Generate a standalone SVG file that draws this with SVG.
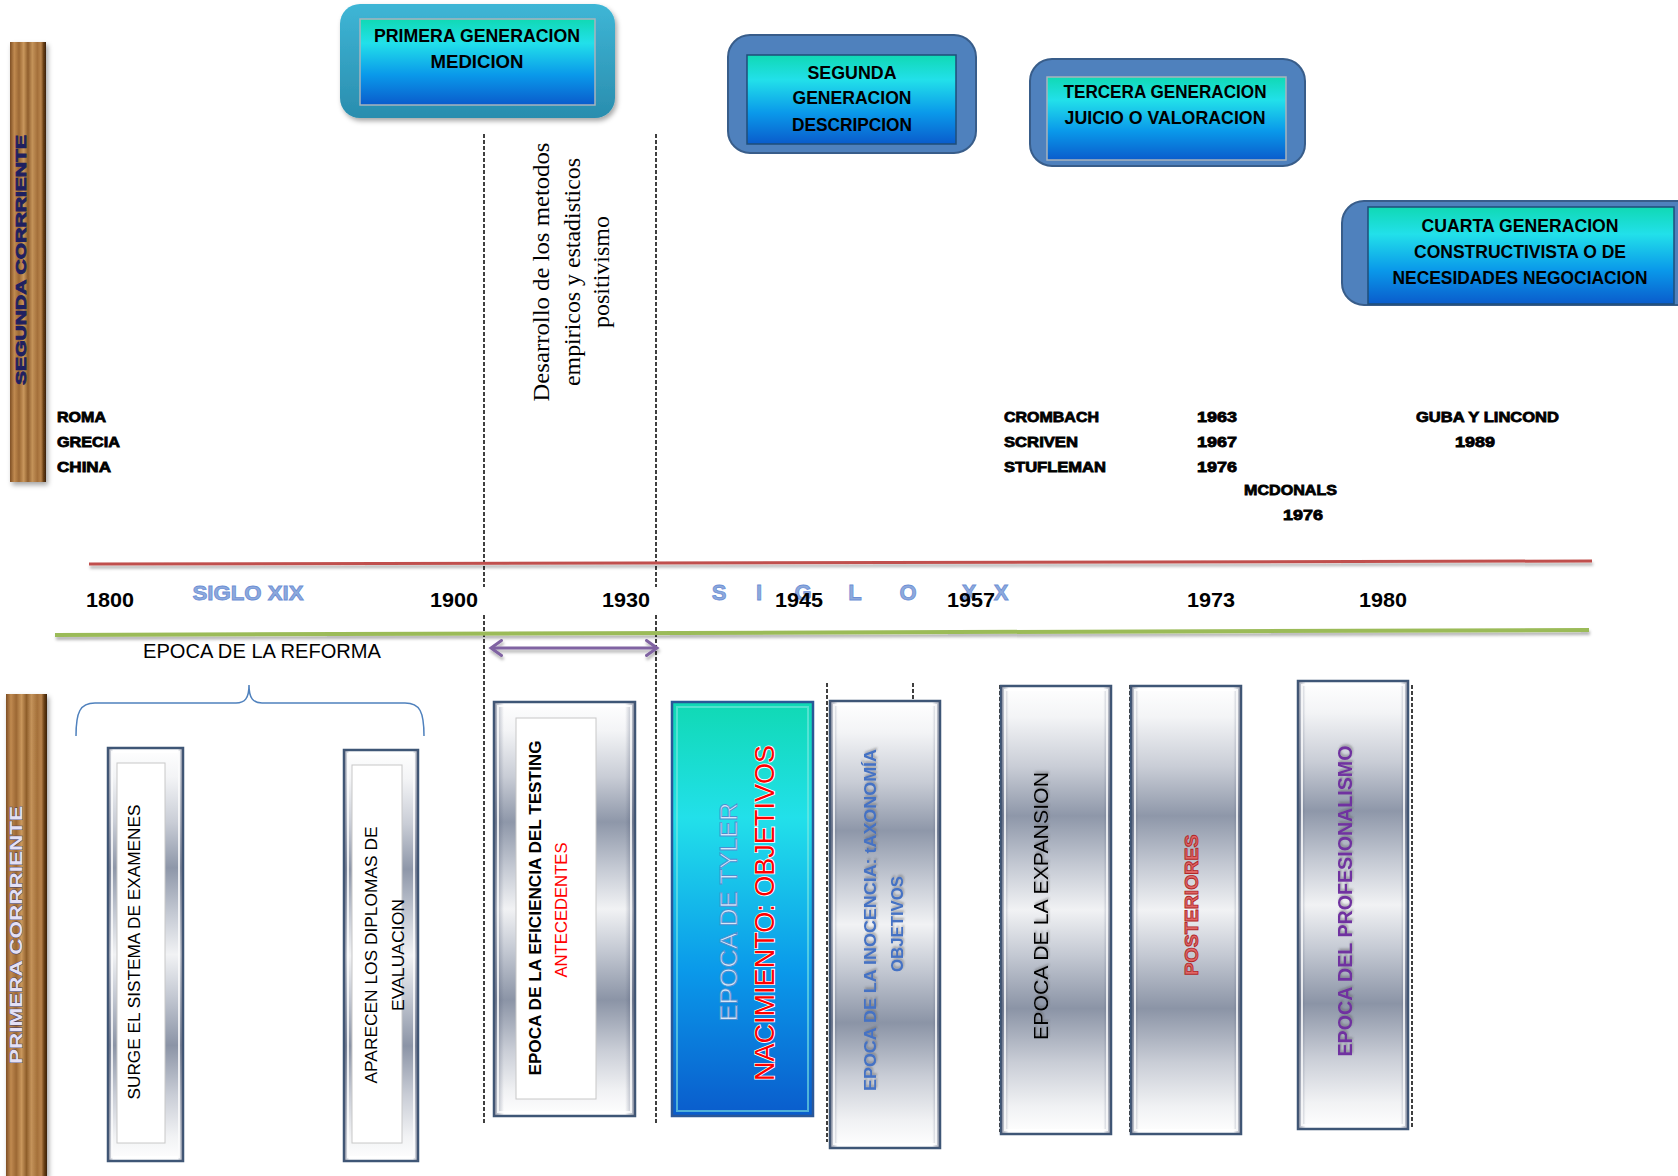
<svg xmlns="http://www.w3.org/2000/svg" width="1678" height="1176" viewBox="0 0 1678 1176">
<style>
text{font-family:"Liberation Sans",Arial,sans-serif}
.gen{font-weight:bold;font-size:17.5px;fill:#000;text-anchor:middle}
.heavy{font-weight:bold;font-size:15px;fill:#000;stroke:#000;stroke-width:0.8}
.year{font-weight:bold;font-size:20px;fill:#000;text-anchor:middle}
.vt{text-anchor:middle;dominant-baseline:central}
.dash{stroke:#000;stroke-width:1.5;stroke-dasharray:4 2;fill:none}
.frame{stroke:#3e5676;stroke-width:2.5}
.bevel{fill:none;stroke:#ffffff;stroke-opacity:0.8;stroke-width:2}
.outer2{fill:#4f81bd;stroke:#385d8a;stroke-width:2}
</style>
<defs>
<linearGradient id="silver" x1="0" y1="0" x2="0" y2="1">
<stop offset="0" stop-color="#ffffff"/>
<stop offset="0.07" stop-color="#f3f4f6"/>
<stop offset="0.18" stop-color="#c9cdd6"/>
<stop offset="0.29" stop-color="#8e97a9"/>
<stop offset="0.4" stop-color="#c4c9d3"/>
<stop offset="0.5" stop-color="#f1f2f4"/>
<stop offset="0.6" stop-color="#c4c9d3"/>
<stop offset="0.72" stop-color="#8b94a6"/>
<stop offset="0.84" stop-color="#c9cdd6"/>
<stop offset="0.94" stop-color="#f1f2f4"/>
<stop offset="1" stop-color="#ffffff"/>
</linearGradient>
<linearGradient id="edge" x1="0" y1="0" x2="1" y2="0">
<stop offset="0" stop-color="#4a5570" stop-opacity="0.55"/>
<stop offset="0.07" stop-color="#4a5570" stop-opacity="0"/>
<stop offset="0.93" stop-color="#4a5570" stop-opacity="0"/>
<stop offset="1" stop-color="#4a5570" stop-opacity="0.55"/>
</linearGradient>
<linearGradient id="teal" x1="0" y1="0" x2="0" y2="1">
<stop offset="0" stop-color="#10d9b4"/>
<stop offset="0.28" stop-color="#22e0ea"/>
<stop offset="0.65" stop-color="#0a99ea"/>
<stop offset="1" stop-color="#0a5ccc"/>
</linearGradient>
<linearGradient id="primOuter" x1="0" y1="0" x2="0" y2="1">
<stop offset="0" stop-color="#3eb6d6"/>
<stop offset="1" stop-color="#2a8dae"/>
</linearGradient>
<linearGradient id="wood" x1="0" y1="0" x2="1" y2="0">
<stop offset="0" stop-color="#7e4f24"/>
<stop offset="0.12" stop-color="#c08a50"/>
<stop offset="0.25" stop-color="#9c6834"/>
<stop offset="0.38" stop-color="#c9975c"/>
<stop offset="0.5" stop-color="#8f5e2c"/>
<stop offset="0.62" stop-color="#c4935a"/>
<stop offset="0.76" stop-color="#a4703a"/>
<stop offset="0.86" stop-color="#b8834c"/>
<stop offset="0.93" stop-color="#6b4118"/>
<stop offset="1" stop-color="#3a2208"/>
</linearGradient>
<filter id="sh" x="-10%" y="-10%" width="130%" height="130%">
<feDropShadow dx="2" dy="3" stdDeviation="2.5" flood-color="#000" flood-opacity="0.35"/>
</filter>
<filter id="lsh" filterUnits="userSpaceOnUse" x="0" y="0" width="1678" height="1176">
<feDropShadow dx="1" dy="3" stdDeviation="1.5" flood-color="#000" flood-opacity="0.3"/>
</filter>
<filter id="tsh" x="-20%" y="-20%" width="150%" height="150%">
<feDropShadow dx="2" dy="1" stdDeviation="1" flood-color="#555" flood-opacity="0.45"/>
</filter>
<marker id="chev" viewBox="0 0 10 12" refX="8" refY="6" markerWidth="5" markerHeight="6" orient="auto-start-reverse" markerUnits="strokeWidth">
<path d="M1,1 L8,6 L1,11" fill="none" stroke="#8064a2" stroke-width="2" stroke-linecap="round"/>
</marker>
</defs>

<g id="plank-segunda">
<rect x="10" y="42" width="36" height="440" fill="url(#wood)" filter="url(#sh)"/>
<text class="vt" transform="translate(20,260) rotate(-90)" font-weight="bold" font-size="15" fill="#1f2060" stroke="#1f2060" stroke-width="0.8" textLength="250" lengthAdjust="spacingAndGlyphs">SEGUNDA  CORRRIENTE</text>
</g>
<g id="plank-primera">
<rect x="6" y="694" width="41" height="482" fill="url(#wood)" filter="url(#sh)"/>
<text class="vt" transform="translate(16,935) rotate(-90)" font-weight="bold" font-size="16" fill="#e4e0f4" stroke="#3a3a6a" stroke-width="0.7" paint-order="stroke" textLength="258" lengthAdjust="spacingAndGlyphs">PRIMERA CORRRIENTE</text>
</g>

<g id="gen-primera">
<rect x="340" y="4" width="275" height="114" rx="20" fill="url(#primOuter)" filter="url(#sh)"/>
<rect x="360" y="19" width="235" height="86" fill="url(#teal)" stroke="#a9b4bd" stroke-width="1.5"/>
<text class="gen" x="477" y="42" textLength="206" lengthAdjust="spacingAndGlyphs">PRIMERA GENERACION</text>
<text class="gen" x="477" y="68" textLength="93" lengthAdjust="spacingAndGlyphs">MEDICION</text>
</g>
<g id="gen-segunda">
<rect class="outer2" x="728" y="35" width="248" height="118" rx="22"/>
<rect x="747" y="55" width="209" height="89" fill="url(#teal)" stroke="#1f4e79" stroke-width="1.5"/>
<text class="gen" x="852" y="79" textLength="89" lengthAdjust="spacingAndGlyphs">SEGUNDA</text>
<text class="gen" x="852" y="104" textLength="119" lengthAdjust="spacingAndGlyphs">GENERACION</text>
<text class="gen" x="852" y="131" textLength="120" lengthAdjust="spacingAndGlyphs">DESCRIPCION</text>
</g>
<g id="gen-tercera">
<rect class="outer2" x="1030" y="59" width="275" height="107" rx="22"/>
<rect x="1047" y="77" width="239" height="83" fill="url(#teal)" stroke="#a9b4bd" stroke-width="1.5"/>
<text class="gen" x="1165" y="98" textLength="203" lengthAdjust="spacingAndGlyphs">TERCERA GENERACION</text>
<text class="gen" x="1165" y="124" textLength="201" lengthAdjust="spacingAndGlyphs">JUICIO O VALORACION</text>
</g>
<g id="gen-cuarta">
<rect class="outer2" x="1342" y="201" width="360" height="104" rx="22"/>
<rect x="1368" y="207" width="306" height="97" fill="url(#teal)" stroke="#1f4e79" stroke-width="1.5"/>
<text class="gen" x="1520" y="232" textLength="197" lengthAdjust="spacingAndGlyphs">CUARTA GENERACION</text>
<text class="gen" x="1520" y="258" textLength="212" lengthAdjust="spacingAndGlyphs">CONSTRUCTIVISTA O DE</text>
<text class="gen" x="1520" y="284" textLength="255" lengthAdjust="spacingAndGlyphs">NECESIDADES NEGOCIACION</text>
</g>

<g id="connectors">
<line class="dash" x1="484" y1="134" x2="484" y2="587"/>
<line class="dash" x1="484" y1="615" x2="484" y2="1124"/>
<line class="dash" x1="656" y1="134" x2="656" y2="587"/>
<line class="dash" x1="656" y1="615" x2="656" y2="1124"/>
<line class="dash" x1="827" y1="683" x2="827" y2="1142"/>
<line class="dash" x1="913" y1="683" x2="913" y2="702"/>
<line class="dash" x1="1000" y1="685" x2="1000" y2="1132"/>
<line class="dash" x1="1130" y1="685" x2="1130" y2="1132"/>
<line class="dash" x1="1412" y1="685" x2="1412" y2="1128"/>
<line x1="89" y1="564" x2="1592" y2="561" stroke="#c0504d" stroke-width="3" filter="url(#lsh)"/>
<line x1="55" y1="635" x2="1589" y2="630" stroke="#9bbb59" stroke-width="4" filter="url(#lsh)"/>
<line x1="491" y1="648" x2="657" y2="648" stroke="#8064a2" stroke-width="3" marker-start="url(#chev)" marker-end="url(#chev)" filter="url(#lsh)"/>
<path d="M76,736 C76,712 80,703 95,703 L236,703 C245,703 249,698 249,685 C249,698 253,703 262,703 L405,703 C420,703 424,712 424,736" fill="none" stroke="#4f81bd" stroke-width="1.5"/>
</g>

<g id="desarrollo">
<text class="vt" transform="translate(541,272) rotate(-90)" font-size="23" fill="#000" textLength="259" lengthAdjust="spacingAndGlyphs" style="font-family:'Liberation Serif',serif">Desarrollo de los metodos</text>
<text class="vt" transform="translate(572,272) rotate(-90)" font-size="23" fill="#000" textLength="228" lengthAdjust="spacingAndGlyphs" style="font-family:'Liberation Serif',serif">empiricos y estadisticos</text>
<text class="vt" transform="translate(601,272) rotate(-90)" font-size="23" fill="#000" textLength="112" lengthAdjust="spacingAndGlyphs" style="font-family:'Liberation Serif',serif">positivismo</text>
</g>

<g id="autores">
<text class="heavy" x="57" y="422" textLength="49" lengthAdjust="spacingAndGlyphs">ROMA</text>
<text class="heavy" x="57" y="447" textLength="63" lengthAdjust="spacingAndGlyphs">GRECIA</text>
<text class="heavy" x="57" y="472" textLength="54" lengthAdjust="spacingAndGlyphs">CHINA</text>
<text class="heavy" x="1004" y="422" textLength="95" lengthAdjust="spacingAndGlyphs">CROMBACH</text>
<text class="heavy" x="1004" y="447" textLength="74" lengthAdjust="spacingAndGlyphs">SCRIVEN</text>
<text class="heavy" x="1004" y="472" textLength="102" lengthAdjust="spacingAndGlyphs">STUFLEMAN</text>
<text class="heavy" x="1197" y="422" textLength="40" lengthAdjust="spacingAndGlyphs">1963</text>
<text class="heavy" x="1197" y="447" textLength="40" lengthAdjust="spacingAndGlyphs">1967</text>
<text class="heavy" x="1197" y="472" textLength="40" lengthAdjust="spacingAndGlyphs">1976</text>
<text class="heavy" x="1244" y="495" textLength="93" lengthAdjust="spacingAndGlyphs">MCDONALS</text>
<text class="heavy" x="1283" y="520" textLength="40" lengthAdjust="spacingAndGlyphs">1976</text>
<text class="heavy" x="1416" y="422" textLength="143" lengthAdjust="spacingAndGlyphs">GUBA Y LINCOND</text>
<text class="heavy" x="1455" y="447" textLength="40" lengthAdjust="spacingAndGlyphs">1989</text>
</g>

<g id="siglos">
<text x="248" y="600" text-anchor="middle" font-weight="bold" font-size="20" fill="#8eaadb" stroke="#6d8fd6" stroke-width="0.8" textLength="111" lengthAdjust="spacingAndGlyphs">SIGLO XIX</text>
<text x="719 759 803 855 908 969 1001" y="600" text-anchor="middle" font-weight="bold" font-size="22" fill="#8eaadb" stroke="#6d8fd6" stroke-width="0.8">SIGLOXX</text>
</g>

<g id="years">
<text class="year" x="110" y="607" textLength="48" lengthAdjust="spacingAndGlyphs">1800</text>
<text class="year" x="454" y="607" textLength="48" lengthAdjust="spacingAndGlyphs">1900</text>
<text class="year" x="626" y="607" textLength="48" lengthAdjust="spacingAndGlyphs">1930</text>
<text class="year" x="799" y="607" textLength="48" lengthAdjust="spacingAndGlyphs">1945</text>
<text class="year" x="971" y="607" textLength="48" lengthAdjust="spacingAndGlyphs">1957</text>
<text class="year" x="1211" y="607" textLength="48" lengthAdjust="spacingAndGlyphs">1973</text>
<text class="year" x="1383" y="607" textLength="48" lengthAdjust="spacingAndGlyphs">1980</text>
</g>

<g id="reforma">
<text x="262" y="658" text-anchor="middle" font-size="20" fill="#000" textLength="238" lengthAdjust="spacingAndGlyphs">EPOCA DE LA REFORMA</text>
</g>

<g id="n-surge">
<rect class="frame" x="108" y="748" width="75" height="413" fill="url(#silver)"/>
<rect x="108" y="748" width="75" height="413" fill="url(#edge)"/>
<rect class="bevel" x="112" y="752" width="67" height="405"/>
<rect x="117" y="763" width="48" height="380" fill="#fff" stroke="#c8c8c8"/>
<text class="vt" transform="translate(134,952) rotate(-90)" font-size="17" fill="#000" textLength="295" lengthAdjust="spacingAndGlyphs">SURGE EL SISTEMA DE EXAMENES</text>
</g>
<g id="n-diplomas">
<rect class="frame" x="344" y="750" width="74" height="411" fill="url(#silver)"/>
<rect x="344" y="750" width="74" height="411" fill="url(#edge)"/>
<rect class="bevel" x="348" y="754" width="66" height="403"/>
<rect x="352" y="765" width="50" height="378" fill="#fff" stroke="#c8c8c8"/>
<text class="vt" transform="translate(371,955) rotate(-90)" font-size="17" fill="#000" textLength="257" lengthAdjust="spacingAndGlyphs">APARECEN LOS DIPLOMAS DE</text>
<text class="vt" transform="translate(398,955) rotate(-90)" font-size="17" fill="#000" textLength="112" lengthAdjust="spacingAndGlyphs">EVALUACION</text>
</g>
<g id="n-testing">
<rect class="frame" x="494" y="702" width="141" height="414" fill="url(#silver)"/>
<rect x="494" y="702" width="141" height="414" fill="url(#edge)"/>
<rect class="bevel" x="498" y="706" width="133" height="406"/>
<rect x="516" y="718" width="80" height="381" fill="#fff" stroke="#c8c8c8"/>
<text class="vt" transform="translate(535,908) rotate(-90)" font-size="17" font-weight="bold" fill="#000" textLength="335" lengthAdjust="spacingAndGlyphs">EPOCA DE LA EFICIENCIA DEL TESTING</text>
<text class="vt" transform="translate(561,910) rotate(-90)" font-size="17" fill="#ff0000" textLength="135" lengthAdjust="spacingAndGlyphs">ANTECEDENTES</text>
</g>
<g id="n-tyler">
<rect x="672" y="702" width="141" height="414" fill="url(#teal)" stroke="#2b5797" stroke-width="2.5"/>
<rect x="677" y="707" width="131" height="404" fill="none" stroke="#7fe8e0" stroke-opacity="0.6" stroke-width="2"/>
<text class="vt" transform="translate(728,912) rotate(-90)" font-size="24" fill="#d6e6f8" stroke="#4f8fd0" stroke-width="0.9" textLength="219" lengthAdjust="spacingAndGlyphs">EPOCA DE TYLER</text>
<text class="vt" transform="translate(765,913) rotate(-90)" font-size="27" fill="#ff0000" stroke="#ffffff" stroke-width="1.6" paint-order="stroke" textLength="336" lengthAdjust="spacingAndGlyphs">NACIMIENTO: OBJETIVOS</text>
</g>
<g id="n-inocencia">
<rect class="frame" x="830" y="701" width="110" height="447" fill="url(#silver)"/>
<rect x="830" y="701" width="110" height="447" fill="url(#edge)"/>
<rect class="bevel" x="834" y="705" width="102" height="439"/>
<text class="vt" transform="translate(870,920) rotate(-90)" font-size="16" font-weight="bold" fill="#4472c4" filter="url(#tsh)" textLength="342" lengthAdjust="spacingAndGlyphs">EPOCA DE LA INOCENCIA: tAXONOMÍA</text>
<text class="vt" transform="translate(897,924) rotate(-90)" font-size="16" font-weight="bold" fill="#4472c4" filter="url(#tsh)" textLength="96" lengthAdjust="spacingAndGlyphs">OBJETIVOS</text>
</g>
<g id="n-expansion">
<rect class="frame" x="1001" y="686" width="110" height="448" fill="url(#silver)"/>
<rect x="1001" y="686" width="110" height="448" fill="url(#edge)"/>
<rect class="bevel" x="1005" y="690" width="102" height="440"/>
<text class="vt" transform="translate(1040,906) rotate(-90)" font-size="21" fill="#000" filter="url(#tsh)" textLength="268" lengthAdjust="spacingAndGlyphs">EPOCA DE LA EXPANSION</text>
</g>
<g id="n-posteriores">
<rect class="frame" x="1131" y="686" width="110" height="448" fill="url(#silver)"/>
<rect x="1131" y="686" width="110" height="448" fill="url(#edge)"/>
<rect class="bevel" x="1135" y="690" width="102" height="440"/>
<text class="vt" transform="translate(1191,905) rotate(-90)" font-size="19" font-weight="bold" fill="#e06666" stroke="#b02828" stroke-width="0.9" textLength="141" lengthAdjust="spacingAndGlyphs">POSTERIORES</text>
</g>
<g id="n-profesionalismo">
<rect class="frame" x="1298" y="681" width="110" height="448" fill="url(#silver)"/>
<rect x="1298" y="681" width="110" height="448" fill="url(#edge)"/>
<rect class="bevel" x="1302" y="685" width="102" height="440"/>
<text class="vt" transform="translate(1345,901) rotate(-90)" font-size="19.5" font-weight="bold" fill="#7030a0" filter="url(#tsh)" textLength="311" lengthAdjust="spacingAndGlyphs">EPOCA DEL PROFESIONALISMO</text>
</g>
</svg>
